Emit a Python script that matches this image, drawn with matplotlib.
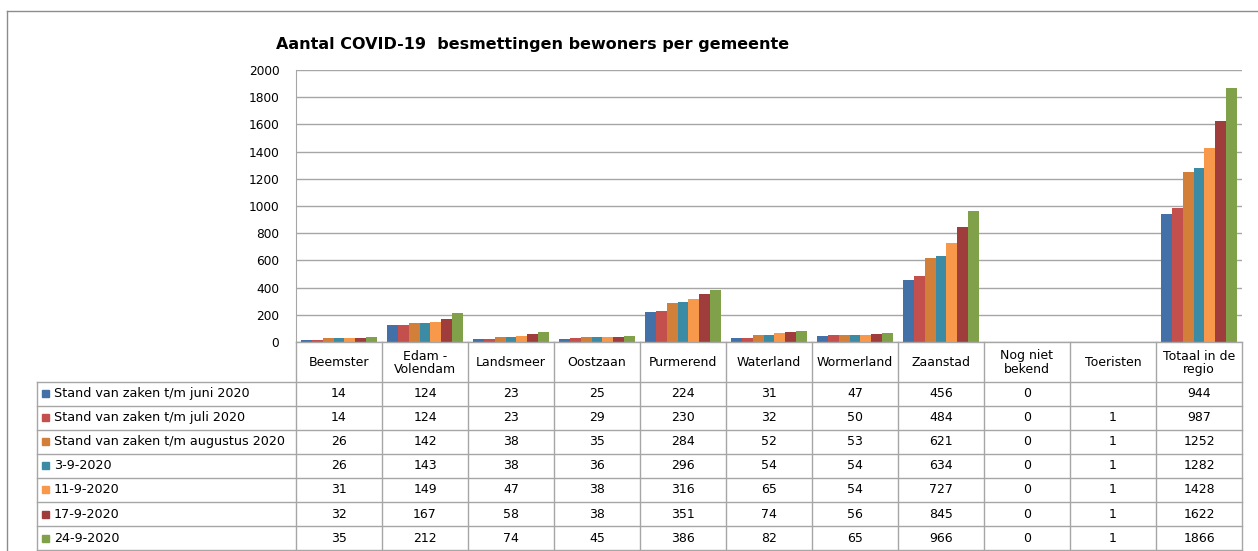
import numpy as np
import matplotlib
matplotlib.use("Agg")
import matplotlib.pyplot as plt
from matplotlib.lines import Line2D
from matplotlib.patches import Rectangle

# ---- data ----
categories = ["Beemster", "Edam -\nVolendam", "Landsmeer", "Oostzaan", "Purmerend",
              "Waterland", "Wormerland", "Zaanstad", "Nog niet\nbekend", "Toeristen",
              "Totaal in de\nregio"]
series_names = ["Stand van zaken t/m juni 2020", "Stand van zaken t/m juli 2020",
                "Stand van zaken t/m augustus 2020", "3-9-2020", "11-9-2020",
                "17-9-2020", "24-9-2020"]
juni = [14, 124, 23, 25, 224, 31, 47, 456, 0, None, 944]
juli = [14, 124, 23, 29, 230, 32, 50, 484, 0, 1, 987]
augustus = [26, 142, 38, 35, 284, 52, 53, 621, 0, 1, 1252]
sep03 = [26, 143, 38, 36, 296, 54, 54, 634, 0, 1, 1282]
sep11 = [31, 149, 47, 38, 316, 65, 54, 727, 0, 1, 1428]
sep17 = [32, 167, 58, 38, 351, 74, 56, 845, 0, 1, 1622]
sep24 = [35, 212, 74, 45, 386, 82, 65, 966, 0, 1, 1866]
series_values = [juni, juli, augustus, sep03, sep11, sep17, sep24]
yticks = [0, 200, 400, 600, 800, 1000, 1200, 1400, 1600, 1800, 2000]

colors = ["#4470A8", "#C4504E", "#D27F3A", "#3B8BA5", "#F7984A", "#9E3D3C", "#80A04A"]

W, H = 1258, 551
fig = plt.figure(figsize=(W / 100, H / 100), dpi=100)
FONT = "DejaVu Sans"
GRID = "#A6A6A6"


def fx(x):
    return x / W


def fy(y):
    return 1 - y / H


def hline(x0, x1, y, color=GRID, lw=1.0):
    fig.add_artist(Line2D([fx(x0), fx(x1)], [fy(y), fy(y)], color=color, lw=lw))


def vline(x, y0, y1, color=GRID, lw=1.0):
    fig.add_artist(Line2D([fx(x), fx(x)], [fy(y0), fy(y1)], color=color, lw=lw))


# plot area
L, R, T, B = 296, 1242, 70, 342
ax = fig.add_axes([fx(L), fy(B), fx(R) - fx(L), fy(T) - fy(B)])
ax.set_ylim(0, 2000)
n = len(categories)
ax.set_xlim(-0.5, n - 0.5)
ns = len(series_values)
bw = 0.126
xs = np.arange(n)
for k, (vals, col) in enumerate(zip(series_values, colors)):
    h = [0 if v is None else v for v in vals]
    ax.bar(xs + (k - (ns - 1) / 2) * bw, h, width=bw, color=col, edgecolor="none", zorder=3)
ax.set_yticks(yticks)
ax.yaxis.grid(True, color=GRID, lw=1.0, zorder=0)
ax.set_xticks([])
ax.tick_params(axis="y", length=0, pad=12, labelsize=8.7, labelcolor="#000000")
for lab in ax.get_yticklabels():
    lab.set_fontfamily(FONT)
for s in ["top", "right", "bottom"]:
    ax.spines[s].set_visible(False)
ax.spines["left"].set_color(GRID)
ax.set_facecolor("none")

# title
fig.text(fx(533), fy(44), "Aantal COVID-19  besmettingen bewoners per gemeente",
         ha="center", va="center", fontsize=11.5, fontweight="bold", family=FONT)

# outer frame
hline(7, 1258, 11, color="#8C8C8C")
vline(7, 11, 551, color="#8C8C8C")

# data table
colw = (R - L) / n
hdr_top, hdr_bot = B, 381.5
rowh = 24.1
tbl_left = 37
nrows = len(series_names)
bottom = hdr_bot + nrows * rowh
for j in range(n + 1):
    vline(L + j * colw, hdr_top, bottom)
vline(tbl_left, hdr_bot, bottom)
hline(L, R, hdr_top)
for i in range(nrows + 1):
    hline(tbl_left, R, hdr_bot + i * rowh)

for j, c in enumerate(categories):
    fig.text(fx(L + (j + 0.5) * colw), fy((hdr_top + hdr_bot) / 2 + 1), c, ha="center",
             va="center", fontsize=9, family=FONT, linespacing=1.05)

for i, (name, vals, col) in enumerate(zip(series_names, series_values, colors)):
    yc = hdr_bot + (i + 0.5) * rowh
    fig.add_artist(Rectangle((fx(42), fy(yc + 3.5)), fx(7), 7 / H, color=col))
    fig.text(fx(54), fy(yc), name, ha="left", va="center", fontsize=9.2, family=FONT)
    for j, v in enumerate(vals):
        if v is None:
            continue
        fig.text(fx(L + (j + 0.5) * colw), fy(yc), str(v), ha="center", va="center",
                 fontsize=9, family=FONT)

fig.savefig("out.png", dpi=100)
